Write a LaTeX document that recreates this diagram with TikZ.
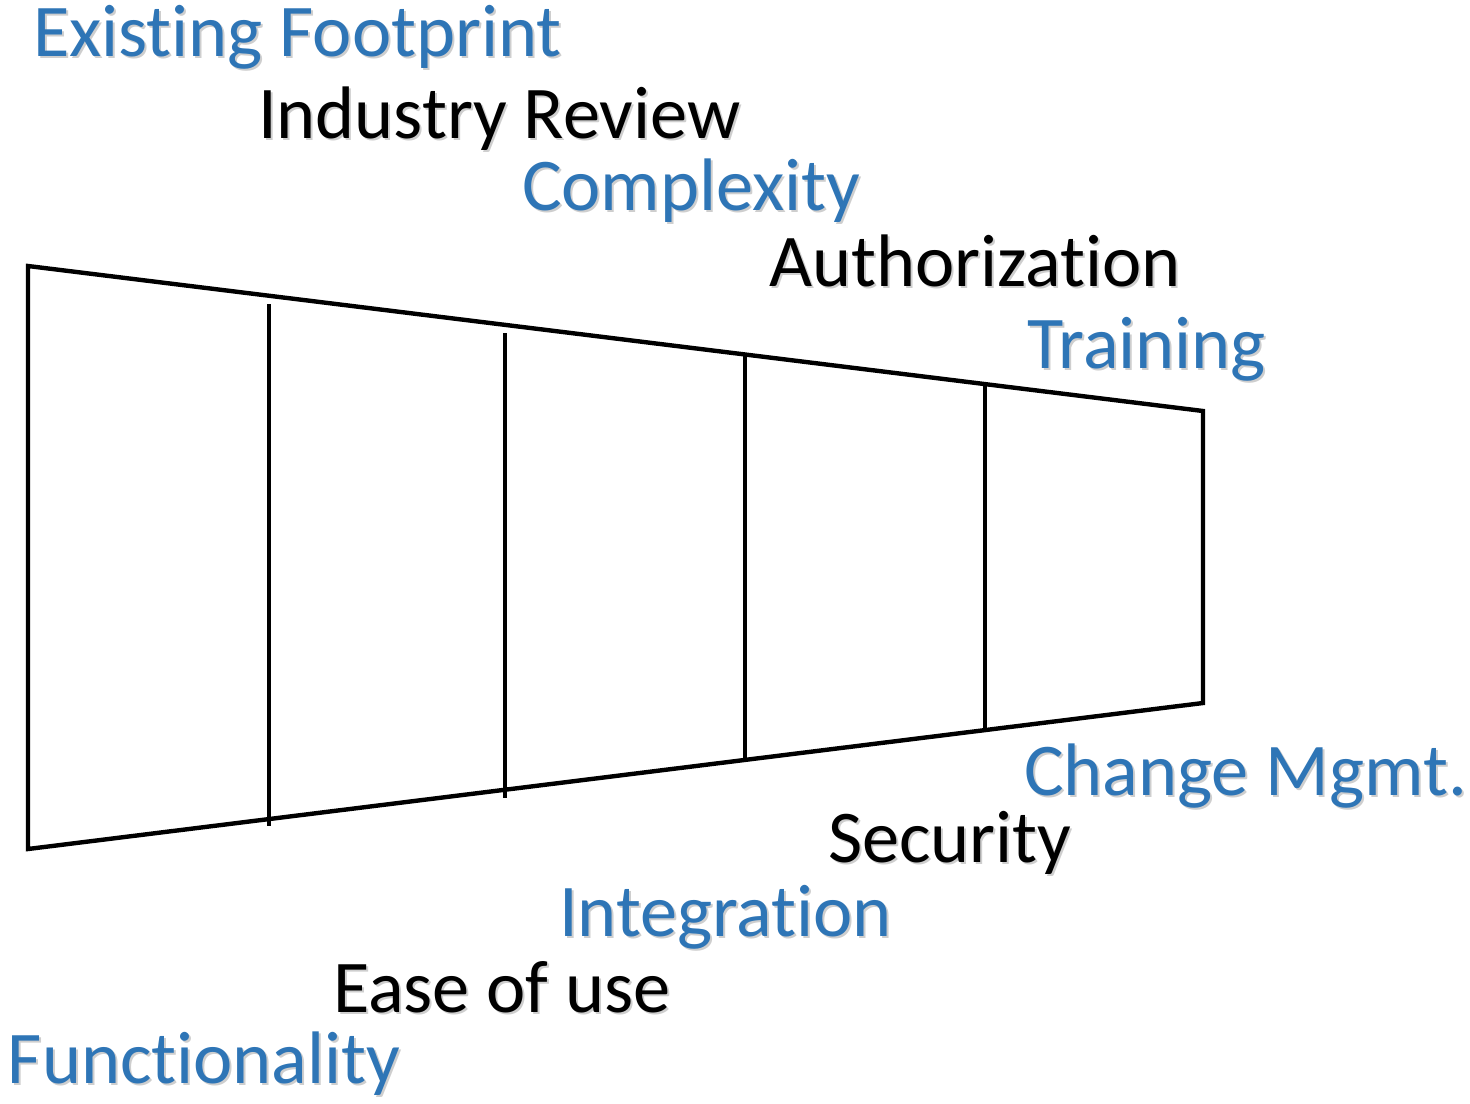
\documentclass[tikz,border=0pt]{standalone}
\usepackage{fontspec}
\setmainfont{Carlito}[Ligatures=NoCommon]
\definecolor{accblue}{HTML}{2E75B6}
\begin{document}
\begin{tikzpicture}[x=0.5pt,y=-0.5pt,
  lbl/.style={anchor=base west,inner sep=0pt,outer sep=0pt,font=\fontsize{37.2}{40}\selectfont},
  blu/.style={lbl,text=accblue},
  blk/.style={lbl,text=black},
  shd/.style={lbl,text=black!35,opacity=0.55},
  edge/.style={line width=2.2pt,line join=miter,black}]
\useasboundingbox (0,0) rectangle (1470,1103);
% funnel
\coordinate (tl) at (28,266);
\coordinate (tr) at (1203,411);
\coordinate (br) at (1203,703);
\coordinate (bl) at (28,849);
\draw[edge] (tl) -- (tr) -- (br) -- (bl) -- cycle;
\coordinate (d1t) at (269,304); \coordinate (d1b) at (269,826);
\coordinate (d2t) at (505,333); \coordinate (d2b) at (505,798);
\coordinate (d3t) at (745,355); \coordinate (d3b) at (745,760);
\coordinate (d4t) at (985,384); \coordinate (d4b) at (985,730);
\draw[edge] (d1t) -- (d1b);
\draw[edge] (d2t) -- (d2b);
\draw[edge] (d3t) -- (d3b);
\draw[edge] (d4t) -- (d4b);
% shadows
\foreach \n/\x/\y/\t in {s1/33/56/Existing Footprint, s2/258/138/Industry Review, s3/522/210/Complexity, s4/769/286/Authorization, s5/1027/368/Training, s6/1024/795/Change Mgmt., s7/828/862/Security, s8/559/936/Integration, s9/333/1012/Ease of use, s10/8/1083/Functionality}
  \node[shd] (\n) at (\x+2,\y+2) {\t};
% labels
\node[blu] (ef) at (33,56) {Existing Footprint};
\node[blk] (ir) at (258,138) {Industry Review};
\node[blu] (cx) at (522,210) {Complexity};
\node[blk] (au) at (769,286) {Authorization};
\node[blu] (tr1) at (1027,368) {Training};
\node[blu] (cm) at (1024,795) {Change Mgmt.};
\node[blk] (se) at (828,862) {Security};
\node[blu] (in) at (559,936) {Integration};
\node[blk] (eu) at (333,1012) {Ease of use};
\node[blu] (fu) at (8,1083) {Functionality};
\end{tikzpicture}
\end{document}
